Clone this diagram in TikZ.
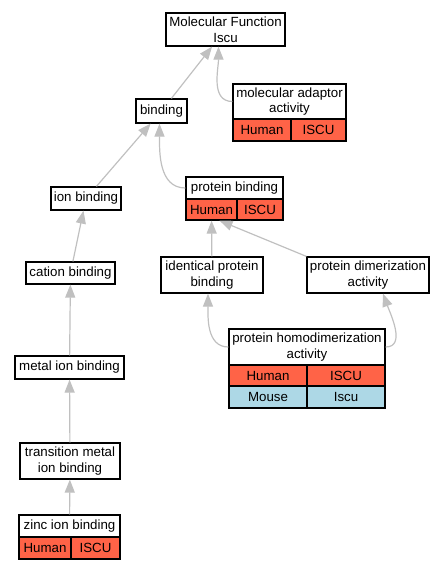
\documentclass[tikz,border=0pt]{standalone}
\usepackage{fontspec}
\setmainfont{Liberation Sans}
\usetikzlibrary{arrows.meta}
\definecolor{humanred}{HTML}{FF6347}
\definecolor{mouseblue}{HTML}{ADD8E6}
\definecolor{edgegray}{HTML}{C0C0C0}
\tikzset{
  term/.style={draw, line width=1.2pt, fill=white, inner sep=0pt, align=center,
    font=\fontsize{13.3}{15.5}\selectfont},
  human/.style={term, fill=humanred},
  mouse/.style={term, fill=mouseblue},
  isa/.style={draw=edgegray, line width=1.2pt, -{Triangle[length=13pt,width=10pt]}}
}
\begin{document}
\begin{tikzpicture}[x=1pt, y=-1pt]
            \useasboundingbox (0,0) rectangle (447,571);
            % Nodes
            \node[term, minimum width=119pt, minimum height=33pt] (mf) at (225.5,29.5) {Molecular Function\\Iscu};
            \node[term, minimum width=113pt, minimum height=35pt] (mad) at (289.5,101.5) {molecular adaptor\\activity};
            \node[human, minimum width=58pt, minimum height=22pt] (madh) at (262,130) {Human};
            \node[human, minimum width=55pt, minimum height=22pt] (madg) at (318.5,130) {ISCU};
            \node[term, minimum width=51pt, minimum height=24pt] (bind) at (161.5,111) {binding};
            \node[term, minimum width=97pt, minimum height=22pt] (pb) at (234.5,188) {protein binding};
            \node[human, minimum width=51pt, minimum height=21pt] (pbh) at (211.5,209.5) {Human};
            \node[human, minimum width=46pt, minimum height=21pt] (pbg) at (260,209.5) {ISCU};
            \node[term, minimum width=70pt, minimum height=23pt] (ion) at (86,198.5) {ion binding};
            \node[term, minimum width=102pt, minimum height=36pt] (ipb) at (212,275) {identical protein\\binding};
            \node[term, minimum width=122pt, minimum height=36pt] (pda) at (368,275) {protein dimerization\\activity};
            \node[term, minimum width=89pt, minimum height=22pt] (cat) at (70.5,273) {cation binding};
            \node[term, minimum width=156pt, minimum height=36pt] (phd) at (307,347) {protein homodimerization\\activity};
            \node[human, minimum width=78pt, minimum height=21pt] (phdh) at (268,375.5) {Human};
            \node[human, minimum width=78pt, minimum height=21pt] (phdg) at (346,375.5) {ISCU};
            \node[mouse, minimum width=78pt, minimum height=22pt] (phdm) at (268,397) {Mouse};
            \node[mouse, minimum width=78pt, minimum height=22pt] (phdn) at (346,397) {Iscu};
            \node[term, minimum width=109pt, minimum height=23pt] (mib) at (69.5,367.5) {metal ion binding};
            \node[term, minimum width=100pt, minimum height=36pt] (tmib) at (70,461) {transition metal\\ion binding};
            \node[term, minimum width=101pt, minimum height=22pt] (zib) at (69.5,526) {zinc ion binding};
            \node[human, minimum width=52pt, minimum height=22pt] (zibh) at (45,548) {Human};
            \node[human, minimum width=49pt, minimum height=22pt] (zibg) at (95.5,548) {ISCU};

            % Arrows
            \draw[isa] (bind) -- (mf);
            \draw[isa] (mad.west) to[out=180,in=-90] ([xshift=-7pt]mf.south);
            \draw[isa] (ion) -- (bind);
            \draw[isa] (pb.west) to[out=180,in=-90] ([xshift=-2pt]bind.south);
            \draw[isa] (cat) -- (ion);
            \draw[isa] (ipb) -- (pbh);
            \draw[isa] (pda.north west) -- ([xshift=8pt]pbh.south);
            \draw[isa] (mib) -- (cat);
            \draw[isa] (phd.west) to[out=180,in=-90] ([xshift=-4pt]ipb.south);
            \draw[isa] (phd.east) to[out=0,in=-70] ([xshift=15pt]pda.south);
            \draw[isa] (tmib) -- (mib);
            \draw[isa] (zib) -- (tmib);
        \end{tikzpicture}
\end{document}
